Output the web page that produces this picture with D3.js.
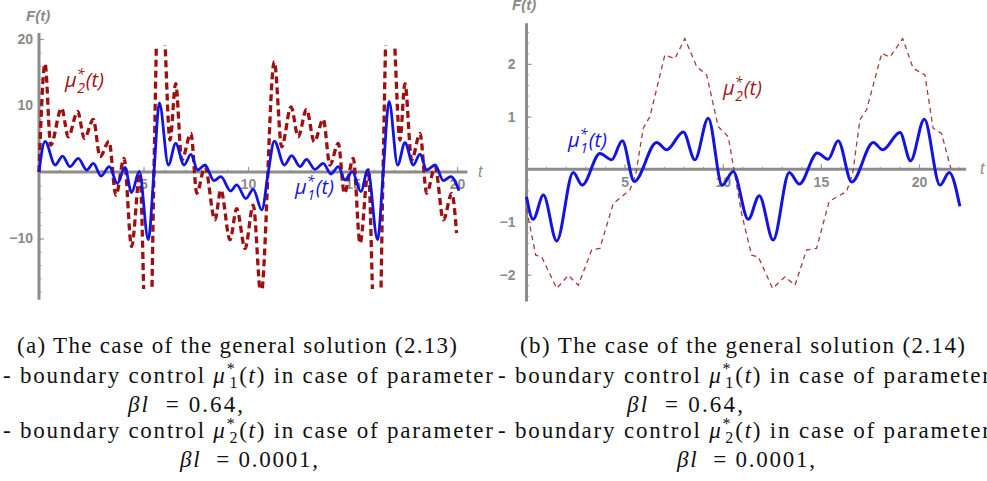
<!DOCTYPE html>
<html><head><meta charset="utf-8">
<script src="https://cdn.jsdelivr.net/npm/d3@7"></script>
<style>
html,body{margin:0;padding:0;background:#fff;}
svg{display:block;}
</style></head>
<body><svg id="c" width="987" height="481"></svg>
<script>
// ---------- data: panel (a) ----------
const aMu1T = [0,0.29,0.77,1.13,1.48,1.88,2.28,2.6,2.97,3.36,3.75,4.11,4.43,4.8,5.23,5.5,5.76,6.19,6.54,6.94,7.27,7.59,7.94,8.37,8.7,9.17,9.46,9.9,10.25,10.66,10.97,11.26,11.74,12.09,12.49,12.8,13.2,13.6,13.97,14.32,14.64,14.99,15.4,15.73,16.2,16.47,16.75,17.16,17.51,17.91,18.23,18.55,18.95,19.35,19.7,20.1];
const aMu1V = [0,4.6,1.05,2.4,0.8,2.05,0.3,1.3,-0.6,0.8,-1.7,0.7,-3.1,0.1,-10.2,0,10.4,1.05,4.3,1.05,2.65,0.3,1.05,-1.3,-0.7,-2.85,-1.95,-4.0,-2.6,-5.7,0,4.65,1.05,2.45,0.8,1.9,0.4,1.3,-0.3,0.8,-1.2,0.05,-2.95,0.3,-10.2,0,10.6,1.05,4.4,1.05,2.7,0.3,1.05,-1.3,-0.7,-2.8];
const aMu2T = [0,0.29,0.56,1.08,1.4,1.85,2.17,2.6,2.92,3.35,3.68,4.07,4.43,4.83,5.1,5.22,5.34,5.5,5.68,5.8,5.92,6.27,6.54,6.83,7.27,7.55,7.94,8.42,8.7,9.14,9.46,9.86,10.25,10.62,11.26,11.61,12.06,12.4,12.8,13.17,13.6,13.92,14.32,14.61,15.04,15.36,15.76,16.05,16.18,16.3,16.46,16.65,16.78,16.9,17.27,17.51,17.83,18.23,18.55,18.95,19.35,19.75,19.98];
const aMu2V = [0,16.3,4.05,9.6,5.3,9.1,5.05,7.9,2.3,4.6,-3.5,2.05,-11.2,-0.2,-24,-21,-24,0,24,21,24,4.8,13.3,1.8,5.8,-3.2,0.8,-7.2,-2.7,-10.2,-5.5,-11.5,-5,-18.5,16.6,3.8,9.8,5.3,9.4,4.55,7.9,1.05,4.3,-3.2,2.05,-10.7,0.3,-24,-21,-24,0,24,21,24,4.8,13.3,1.8,5.8,-3.2,0.8,-7.2,-3.2,-9.2];
const aXTicks = [5,10,15,20];
const aYTicks = [-10,10,20];

// ---------- data: panel (b) ----------
const bMu1T = [0,0.34,0.86,1.54,2.38,2.84,3.74,4.34,4.88,5.49,6.63,7.14,7.99,8.58,9.26,9.97,10.53,11.3,11.86,12.57,13.39,13.9,14.82,15.37,15.88,16.57,17.67,18.15,19.03,19.57,20.27,21.07,21.54,22.08];
const bMu1V = [-0.52,-0.95,-0.49,-1.36,-0.06,-0.3,0.3,0.18,0.54,-0.23,0.51,0.37,0.71,0.18,0.97,-0.3,-0.04,-0.95,-0.5,-1.34,-0.06,-0.28,0.31,0.19,0.54,-0.24,0.51,0.37,0.7,0.16,0.95,-0.3,-0.06,-0.7];
const bMu2T = [0,0.47,0.77,1.54,2.13,2.64,3.32,3.74,4.42,5.27,5.56,5.95,6.29,7.05,7.56,8.07,8.67,9.18,9.77,10.28,10.96,11.47,11.81,12.54,13.17,13.68,14.27,14.78,15.42,16.31,16.62,16.99,17.33,18.1,18.52,19.17,19.7,20.3,20.72,21.15,21.62];
const bMu2V = [-0.75,-1.63,-1.66,-2.26,-2.01,-2.2,-1.53,-1.5,-0.65,-0.39,-0.11,0.78,1.0,2.17,2.1,2.48,1.95,1.79,0.81,0.62,-0.84,-1.63,-1.66,-2.26,-2.04,-2.2,-1.53,-1.5,-0.61,-0.42,-0.08,0.94,1.13,2.2,2.13,2.48,1.92,1.79,0.78,0.68,0.02];
const bXTicks = [5,10,15,20];
const bYTicks = [-2,-1,1,2];

// ---------- captions ----------
const capA1 = "(a) The case of the general solution (2.13)";
const capB1 = "(b) The case of the general solution (2.14)";
const capPre = "- boundary control ";
const capPost = " in case of parameter";
const capVal1 = "0.64,";
const capVal2 = "0.0001,";

const svg = d3.select("#c");
const AXIS = "#8c8c8c", TICKLBL = "#8a8a8a";
const BLUE = "#1414e0", DRED = "#9c1010", LRED = "#a83a3a";

function drawPanel(o){
  const g = svg.append("g");
  const x = o.x, y = o.y;
  g.append("g").attr("transform",`translate(0,${y(0)})`)
    .call(d3.axisBottom(x).tickValues(o.xMinor).tickSize(-2.5).tickFormat(()=>""))
    .call(s=>{s.select(".domain").remove(); s.selectAll("line").attr("stroke","#a0a0a0");});
  g.append("g").attr("transform",`translate(${x(0)},0)`)
    .call(d3.axisLeft(y).tickValues(o.yMinor).tickSize(-2.5).tickFormat(()=>""))
    .call(s=>{s.select(".domain").remove(); s.selectAll("line").attr("stroke","#a0a0a0");});
  const fmt = d3.format("d");
  g.append("g").attr("transform",`translate(0,${y(0)})`)
    .call(d3.axisBottom(x).tickValues(o.xTicks).tickSize(-5).tickPadding(o.xPad).tickFormat(fmt))
    .call(s=>{s.select(".domain").remove(); s.selectAll("line").attr("stroke","#999").attr("stroke-width",1.2);
      s.selectAll("text").attr("fill",TICKLBL).style("font","bold 14px 'Liberation Sans', Arial, sans-serif");});
  g.append("g").attr("transform",`translate(${x(0)},0)`)
    .call(d3.axisLeft(y).tickValues(o.yTicks).tickSize(-5).tickPadding(o.yPad).tickFormat(fmt))
    .call(s=>{s.select(".domain").remove(); s.selectAll("line").attr("stroke","#999").attr("stroke-width",1.2);
      s.selectAll("text").attr("fill",TICKLBL).style("font","bold 14px 'Liberation Sans', Arial, sans-serif");});
  g.append("line").attr("x1",x(0)).attr("x2",x(o.xMax)).attr("y1",y(0)).attr("y2",y(0))
    .attr("stroke",AXIS).attr("stroke-width",3);
  g.append("line").attr("x1",x(0)).attr("x2",x(0)).attr("y1",y(o.yMin)).attr("y2",y(o.yMax))
    .attr("stroke",AXIS).attr("stroke-width",3);
  g.append("text").attr("x",o.fx).attr("y",o.fy).attr("fill","#8a8a8a")
    .style("font","italic bold 15px 'Liberation Sans', Arial, sans-serif").text("F(t)");
  g.append("text").attr("x",o.tx).attr("y",y(0)+5).attr("fill","#8a8a8a")
    .style("font","italic 16px 'Liberation Sans', Arial, sans-serif").text("t");
  const cid = "clip"+o.id;
  svg.append("clipPath").attr("id",cid).append("rect")
    .attr("x",x(0)-2).attr("width",x(o.xMax)-x(0)+4)
    .attr("y",y(o.clipTop)).attr("height",y(o.clipBot)-y(o.clipTop));
  const line = (c)=>d3.line().x(d=>x(d[0])).y(d=>y(d[1])).curve(c);
  const pg = g.append("g").attr("clip-path",`url(#${cid})`);
  pg.append("path").datum(o.redT.map((t,i)=>[t,o.redV[i]]))
    .attr("d",line(o.redCurve)).attr("fill","none").attr("stroke",o.redColor)
    .attr("stroke-width",o.redW).attr("stroke-dasharray",o.redDash);
  pg.append("path").datum(o.blueT.map((t,i)=>[t,o.blueV[i]]))
    .attr("d",line(d3.curveMonotoneX)).attr("fill","none").attr("stroke",BLUE)
    .attr("stroke-width",o.blueW).attr("stroke-linejoin","round");
  return g;
}

function muLabel(x0,y0,sub,color,size){
  const t = svg.append("text").attr("x",x0).attr("y",y0).attr("fill",color)
    .style("font",`italic ${size}px 'Open Sans', 'DejaVu Sans', sans-serif`);
  t.append("tspan").text("\u03BC");
  t.append("tspan").attr("dy",-size*0.42).attr("font-size",size*0.7).text("*");
  t.append("tspan").attr("dx",-size*0.36).attr("dy",size*0.72).attr("font-size",size*0.7).text(sub);
  t.append("tspan").attr("dy",-size*0.3).attr("dx",size*0.05).text("(t)");
}

const xA = d3.scaleLinear().domain([0,20]).range([39,457]);
const yA = d3.scaleLinear().domain([0,10]).range([172,105.5]);
drawPanel({id:"a",x:xA,y:yA,xMax:20.5,yMin:-19.2,yMax:20.9,
  xTicks:aXTicks,yTicks:aYTicks,xMinor:d3.range(1,21),yMinor:d3.range(-18,21,2),
  xPad:7,yPad:6,fx:26,fy:21,tx:478,clipTop:19.1,clipBot:-17.6,
  redT:aMu2T,redV:aMu2V,redColor:DRED,redW:3.3,redDash:"7,4",redCurve:d3.curveMonotoneX,
  blueT:aMu1T,blueV:aMu1V,blueW:2.8});
muLabel(65,87,"2",DRED,20);
muLabel(295,194,"1",BLUE,20);

const xB = d3.scaleLinear().domain([0,20]).range([526.5,919]);
const yB = d3.scaleLinear().domain([0,1]).range([169.3,116.6]);
drawPanel({id:"b",x:xB,y:yB,xMax:22.4,yMin:-2.51,yMax:2.77,
  xTicks:bXTicks,yTicks:bYTicks,xMinor:d3.range(1,23),yMinor:d3.range(-2.4,2.75,0.2).map(v=>+v.toFixed(1)),
  xPad:8,yPad:11,fx:512,fy:10,tx:980,clipTop:3,clipBot:-3,
  redT:bMu2T,redV:bMu2V,redColor:LRED,redW:1.3,redDash:"5,4",redCurve:d3.curveLinear,
  blueT:bMu1T,blueV:bMu1V,blueW:3});
muLabel(568,147,"1",BLUE,20);
muLabel(723,95,"2","#9a1c1c",20);

// ---------- captions ----------
const SERIF = "'Liberation Serif','DejaVu Serif',serif";
const CS = 23;
function plain(x0,y0,len,txt){
  svg.append("text").attr("x",x0).attr("y",y0).attr("textLength",len).attr("lengthAdjust","spacing")
    .style("font",`${CS}px ${SERIF}`).attr("fill","#111").text(txt);
}
function ctrlLine(x0,y0,len,sub){
  const t = svg.append("text").attr("x",x0).attr("y",y0).attr("textLength",len).attr("lengthAdjust","spacing")
    .style("font",`${CS}px ${SERIF}`).attr("fill","#111").attr("xml:space","preserve");
  t.append("tspan").text(capPre);
  t.append("tspan").style("font-style","italic").text("\u03BC");
  t.append("tspan").attr("dy",-9).attr("font-size",16).text("*");
  t.append("tspan").attr("dx",-7).attr("dy",14).attr("font-size",16).text(sub);
  t.append("tspan").attr("dy",-5).text("(");
  t.append("tspan").style("font-style","italic").text("t");
  t.append("tspan").text(")"+capPost);
}
function betaLine(x0,y0,len,val){
  const t = svg.append("text").attr("x",x0).attr("y",y0).attr("textLength",len).attr("lengthAdjust","spacing")
    .style("font",`${CS}px ${SERIF}`).attr("fill","#111").attr("xml:space","preserve");
  t.append("tspan").style("font-style","italic").text("\u03B2l");
  t.append("tspan").text("  = "+val);
}
plain(17,353,440,capA1);
ctrlLine(3,383,490,"1");
betaLine(128,412,115,capVal1);
ctrlLine(3,438,490,"2");
betaLine(180,467,138,capVal2);

plain(520,353,445,capB1);
ctrlLine(498,383,492,"1");
betaLine(627,412,116,capVal1);
ctrlLine(498,438,492,"2");
betaLine(677,467,138,capVal2);
</script>
</body></html>
